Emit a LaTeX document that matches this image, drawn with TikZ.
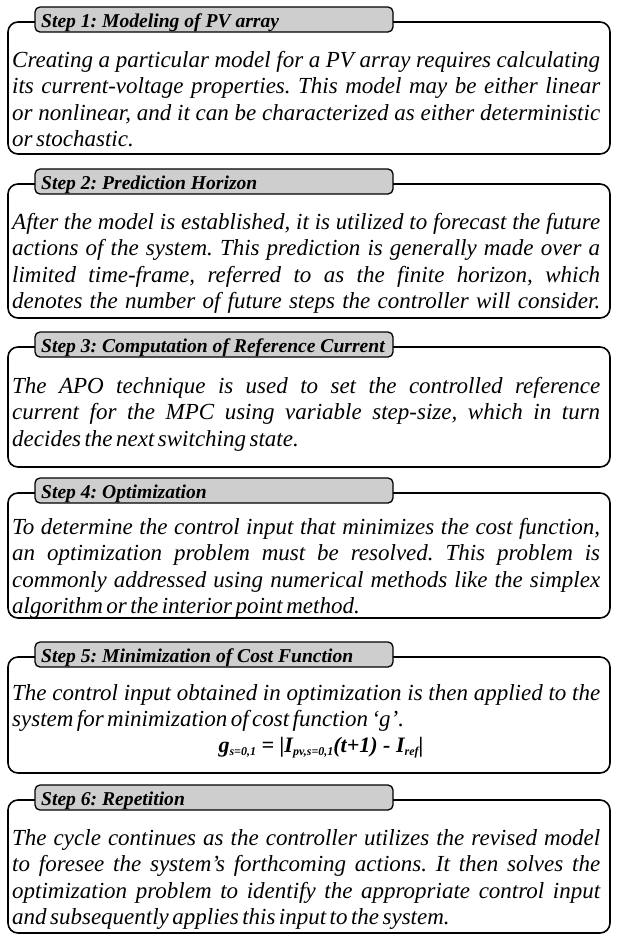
\documentclass[tikz,border=0pt]{standalone}
\usepackage{fontspec}
\setmainfont{Liberation Serif}
\definecolor{tabgray}{RGB}{206,206,206}
\frenchspacing
\newcommand\bodyfmt{\fontsize{23}{26.5}\selectfont\itshape\spaceskip=0.15em plus 3em minus 0.05em\relax}
\newcommand\jline[1]{\hbox to 588pt{#1}}
\newcommand\lastline[1]{\hbox{#1}}
\newcommand\lowidx[1]{\raisebox{-3pt}{\fontsize{12}{12}\selectfont #1}}
\begin{document}
\begin{tikzpicture}[x=1pt,y=-1pt,
  frame/.style={draw=black, line width=1.6pt, rounded corners=10pt},
  tabbox/.style={draw=black, line width=1.3pt, fill=tabgray, rounded corners=5pt},
  head/.style={anchor=base west, inner sep=0pt, font=\fontsize{19.6}{24}\selectfont\bfseries\itshape},
  body/.style={anchor=base west, inner sep=0pt}]
\useasboundingbox (0,0) rectangle (617,938);
% Step 1
\draw[frame] (8,22) rectangle (610,154);
\draw[tabbox] (35,7) rectangle (393,32);
\node[head] (h1) at (41,27) {Step 1: Modeling of PV array};
\node[body] (b1) at (12,67) {\vtop{\bodyfmt
\jline{Creating a particular model for a PV array requires calculating}
\jline{its current-voltage properties. This model may be either linear}
\jline{or nonlinear, and it can be characterized as either deterministic}
\lastline{or stochastic.}}};
% Step 2
\draw[frame] (8,184) rectangle (610,318);
\draw[tabbox] (35,169) rectangle (393,194);
\node[head] (h2) at (41,189) {Step 2: Prediction Horizon};
\node[body] (b2) at (12,229) {\vtop{\bodyfmt
\jline{After the model is established, it is utilized to forecast the future}
\jline{actions of the system. This prediction is generally made over a}
\jline{limited time-frame, referred to as the finite horizon, which}
\jline{denotes the number of future steps the controller will consider.}}};
% Step 3
\draw[frame] (8,347) rectangle (610,467);
\draw[tabbox] (35,332) rectangle (393,357);
\node[head] (h3) at (41,352) {Step 3: Computation of Reference Current};
\node[body] (b3) at (12,393) {\vtop{\bodyfmt
\jline{The APO technique is used to set the controlled reference}
\jline{current for the MPC using variable step-size, which in turn}
\lastline{decides the next switching state.}}};
% Step 4
\draw[frame] (8,493) rectangle (610,618);
\draw[tabbox] (35,478) rectangle (393,503);
\node[head] (h4) at (41,498) {Step 4: Optimization};
\node[body] (b4) at (12,534) {\vtop{\bodyfmt
\jline{To determine the control input that minimizes the cost function,}
\jline{an optimization problem must be resolved. This problem is}
\jline{commonly addressed using numerical methods like the simplex}
\lastline{algorithm or the interior point method.}}};
% Step 5
\draw[frame] (8,657) rectangle (610,773);
\draw[tabbox] (35,642) rectangle (393,667);
\node[head] (h5) at (41,662) {Step 5: Minimization of Cost Function};
\node[body] (b5) at (12,700) {\vtop{\bodyfmt
\jline{The control input obtained in optimization is then applied to the}
\lastline{system for minimization of cost function ‘g’.}}};
\node[anchor=base, inner sep=0pt] (f5) at (321,752) {\fontsize{22}{26}\selectfont\bfseries\itshape g\lowidx{s=0,1} = |I\lowidx{pv,s=0,1}(t+1) - I\lowidx{ref}|};
% Step 6
\draw[frame] (8,800) rectangle (610,933);
\draw[tabbox] (35,785) rectangle (393,810);
\node[head] (h6) at (41,805) {Step 6: Repetition};
\node[body] (b6) at (12,845) {\vtop{\bodyfmt
\jline{The cycle continues as the controller utilizes the revised model}
\jline{to foresee the system's forthcoming actions. It then solves the}
\jline{optimization problem to identify the appropriate control input}
\lastline{and subsequently applies this input to the system.}}};
\end{tikzpicture}
\end{document}
